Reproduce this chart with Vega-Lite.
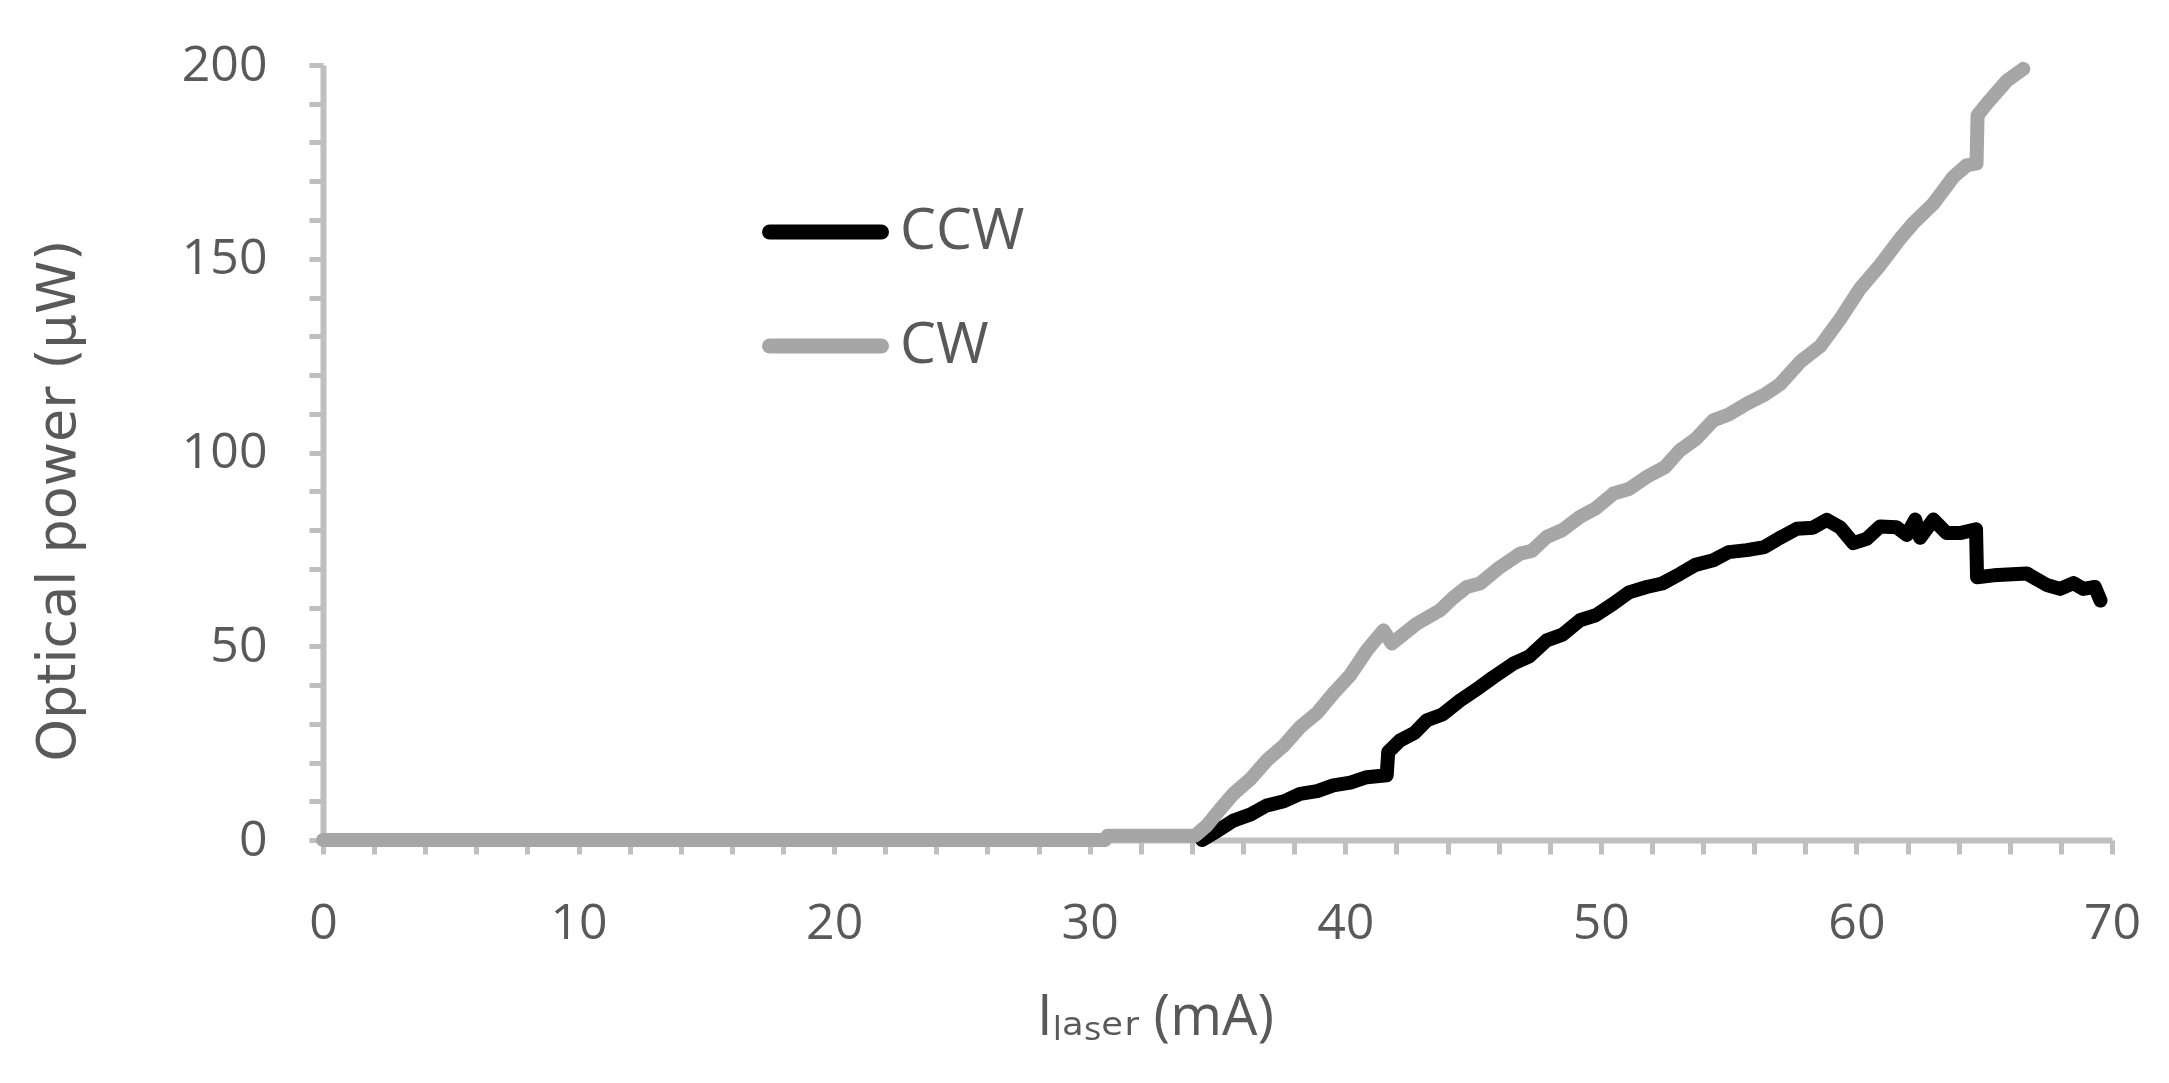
{
  "$schema": "https://vega.github.io/schema/vega-lite/v6.json",
  "description": "Optical power vs laser current for the CCW and CW directions.",
  "width": 1789,
  "height": 775,
  "autosize": {"type": "none"},
  "padding": {"left": 323, "top": 65, "right": 57, "bottom": 243},
  "background": "white",
  "config": {
    "view": {"stroke": null},
    "axis": {
      "domainColor": "#bfbfbf",
      "domainWidth": 6,
      "tickColor": "#bfbfbf",
      "tickWidth": 5,
      "tickSize": 14,
      "grid": false,
      "labelFont": "Open Sans",
      "labelFontSize": 50,
      "labelColor": "#595959",
      "labelFlush": false,
      "titleColor": "#595959",
      "titleFontWeight": "normal"
    }
  },
  "data": {
    "values": [
      {"current": 34.4, "power": 0, "dir": "CCW"},
      {"current": 35.0, "power": 2.4, "dir": "CCW"},
      {"current": 35.62, "power": 5.0, "dir": "CCW"},
      {"current": 36.3, "power": 6.6, "dir": "CCW"},
      {"current": 36.92, "power": 8.9, "dir": "CCW"},
      {"current": 37.6, "power": 10.0, "dir": "CCW"},
      {"current": 38.23, "power": 11.9, "dir": "CCW"},
      {"current": 38.9, "power": 12.6, "dir": "CCW"},
      {"current": 39.53, "power": 14.1, "dir": "CCW"},
      {"current": 40.2, "power": 14.8, "dir": "CCW"},
      {"current": 40.84, "power": 16.2, "dir": "CCW"},
      {"current": 41.62, "power": 16.7, "dir": "CCW"},
      {"current": 41.68, "power": 22.7, "dir": "CCW"},
      {"current": 42.14, "power": 25.7, "dir": "CCW"},
      {"current": 42.7, "power": 27.6, "dir": "CCW"},
      {"current": 43.19, "power": 30.9, "dir": "CCW"},
      {"current": 43.8, "power": 32.4, "dir": "CCW"},
      {"current": 44.49, "power": 36.0, "dir": "CCW"},
      {"current": 45.27, "power": 39.5, "dir": "CCW"},
      {"current": 45.79, "power": 42.0, "dir": "CCW"},
      {"current": 46.57, "power": 45.5, "dir": "CCW"},
      {"current": 47.2, "power": 47.4, "dir": "CCW"},
      {"current": 47.88, "power": 51.5, "dir": "CCW"},
      {"current": 48.5, "power": 53.0, "dir": "CCW"},
      {"current": 49.18, "power": 56.7, "dir": "CCW"},
      {"current": 49.8, "power": 58.0, "dir": "CCW"},
      {"current": 50.49, "power": 61.0, "dir": "CCW"},
      {"current": 51.1, "power": 63.9, "dir": "CCW"},
      {"current": 51.79, "power": 65.3, "dir": "CCW"},
      {"current": 52.4, "power": 66.2, "dir": "CCW"},
      {"current": 53.10, "power": 68.7, "dir": "CCW"},
      {"current": 53.7, "power": 71.0, "dir": "CCW"},
      {"current": 54.40, "power": 72.2, "dir": "CCW"},
      {"current": 55.0, "power": 74.3, "dir": "CCW"},
      {"current": 55.71, "power": 74.8, "dir": "CCW"},
      {"current": 56.4, "power": 75.6, "dir": "CCW"},
      {"current": 57.01, "power": 78.0, "dir": "CCW"},
      {"current": 57.66, "power": 80.3, "dir": "CCW"},
      {"current": 58.3, "power": 80.6, "dir": "CCW"},
      {"current": 58.84, "power": 82.6, "dir": "CCW"},
      {"current": 59.36, "power": 80.7, "dir": "CCW"},
      {"current": 59.88, "power": 76.6, "dir": "CCW"},
      {"current": 60.40, "power": 77.7, "dir": "CCW"},
      {"current": 60.92, "power": 80.9, "dir": "CCW"},
      {"current": 61.57, "power": 80.7, "dir": "CCW"},
      {"current": 61.97, "power": 78.7, "dir": "CCW"},
      {"current": 62.30, "power": 82.7, "dir": "CCW"},
      {"current": 62.49, "power": 78.0, "dir": "CCW"},
      {"current": 63.01, "power": 82.7, "dir": "CCW"},
      {"current": 63.53, "power": 79.2, "dir": "CCW"},
      {"current": 64.05, "power": 79.2, "dir": "CCW"},
      {"current": 64.68, "power": 80.2, "dir": "CCW"},
      {"current": 64.72, "power": 67.8, "dir": "CCW"},
      {"current": 65.36, "power": 68.3, "dir": "CCW"},
      {"current": 66.66, "power": 68.8, "dir": "CCW"},
      {"current": 67.45, "power": 65.8, "dir": "CCW"},
      {"current": 67.97, "power": 64.8, "dir": "CCW"},
      {"current": 68.49, "power": 66.3, "dir": "CCW"},
      {"current": 68.88, "power": 64.8, "dir": "CCW"},
      {"current": 69.33, "power": 65.3, "dir": "CCW"},
      {"current": 69.55, "power": 61.8, "dir": "CCW"},
      {"current": 0, "power": 0, "dir": "CW"},
      {"current": 30.6, "power": 0, "dir": "CW"},
      {"current": 30.7, "power": 1.1, "dir": "CW"},
      {"current": 34.12, "power": 1.1, "dir": "CW"},
      {"current": 34.58, "power": 3.7, "dir": "CW"},
      {"current": 35.1, "power": 7.9, "dir": "CW"},
      {"current": 35.62, "power": 11.9, "dir": "CW"},
      {"current": 36.3, "power": 15.8, "dir": "CW"},
      {"current": 36.92, "power": 20.5, "dir": "CW"},
      {"current": 37.6, "power": 24.4, "dir": "CW"},
      {"current": 38.23, "power": 29.1, "dir": "CW"},
      {"current": 38.9, "power": 32.8, "dir": "CW"},
      {"current": 39.53, "power": 37.8, "dir": "CW"},
      {"current": 40.2, "power": 42.6, "dir": "CW"},
      {"current": 40.84, "power": 48.9, "dir": "CW"},
      {"current": 41.49, "power": 54.1, "dir": "CW"},
      {"current": 41.82, "power": 50.7, "dir": "CW"},
      {"current": 42.79, "power": 55.8, "dir": "CW"},
      {"current": 43.71, "power": 59.3, "dir": "CW"},
      {"current": 44.2, "power": 62.4, "dir": "CW"},
      {"current": 44.75, "power": 65.3, "dir": "CW"},
      {"current": 45.27, "power": 66.2, "dir": "CW"},
      {"current": 46.05, "power": 70.4, "dir": "CW"},
      {"current": 46.84, "power": 73.9, "dir": "CW"},
      {"current": 47.3, "power": 74.6, "dir": "CW"},
      {"current": 47.88, "power": 78.2, "dir": "CW"},
      {"current": 48.5, "power": 80.0, "dir": "CW"},
      {"current": 49.18, "power": 83.4, "dir": "CW"},
      {"current": 49.8, "power": 85.6, "dir": "CW"},
      {"current": 50.49, "power": 89.4, "dir": "CW"},
      {"current": 51.1, "power": 90.6, "dir": "CW"},
      {"current": 51.79, "power": 93.7, "dir": "CW"},
      {"current": 52.5, "power": 96.2, "dir": "CW"},
      {"current": 53.10, "power": 100.6, "dir": "CW"},
      {"current": 53.7, "power": 103.4, "dir": "CW"},
      {"current": 54.40, "power": 108.3, "dir": "CW"},
      {"current": 55.0, "power": 109.8, "dir": "CW"},
      {"current": 55.71, "power": 112.6, "dir": "CW"},
      {"current": 56.4, "power": 114.9, "dir": "CW"},
      {"current": 57.01, "power": 117.6, "dir": "CW"},
      {"current": 57.80, "power": 123.4, "dir": "CW"},
      {"current": 58.58, "power": 127.4, "dir": "CW"},
      {"current": 59.36, "power": 134.4, "dir": "CW"},
      {"current": 60.14, "power": 142.3, "dir": "CW"},
      {"current": 60.92, "power": 148.3, "dir": "CW"},
      {"current": 61.71, "power": 155.2, "dir": "CW"},
      {"current": 62.23, "power": 159.2, "dir": "CW"},
      {"current": 63.01, "power": 164.2, "dir": "CW"},
      {"current": 63.79, "power": 171.1, "dir": "CW"},
      {"current": 64.31, "power": 174.1, "dir": "CW"},
      {"current": 64.70, "power": 174.6, "dir": "CW"},
      {"current": 64.74, "power": 187.0, "dir": "CW"},
      {"current": 65.10, "power": 190.0, "dir": "CW"},
      {"current": 65.88, "power": 195.9, "dir": "CW"},
      {"current": 66.53, "power": 199.0, "dir": "CW"}
    ]
  },
  "mark": {"type": "line", "strokeWidth": 14, "strokeCap": "round", "strokeJoin": "round"},
  "encoding": {
    "x": {
      "field": "current",
      "type": "quantitative",
      "scale": {"domain": [0, 70], "nice": false, "zero": false},
      "axis": {
        "values": [0, 2, 4, 6, 8, 10, 12, 14, 16, 18, 20, 22, 24, 26, 28, 30, 32, 34, 36, 38, 40, 42, 44, 46, 48, 50, 52, 54, 56, 58, 60, 62, 64, 66, 68, 70],
        "labelExpr": "datum.value % 10 === 0 ? datum.label : ''",
        "labelOverlap": false,
        "labelPadding": 44,
        "title": "Iₗₐₛₑᵣ (mA)",
        "titleFont": "Open Sans, DejaVu Sans",
        "titleFontSize": 56,
        "titleX": 832,
        "titleY": 150,
        "titleBaseline": "top",
        "titleAlign": "center"
      }
    },
    "y": {
      "field": "power",
      "type": "quantitative",
      "scale": {"domain": [0, 200], "nice": false},
      "axis": {
        "values": [0, 10, 20, 30, 40, 50, 60, 70, 80, 90, 100, 110, 120, 130, 140, 150, 160, 170, 180, 190, 200],
        "labelExpr": "datum.value % 50 === 0 ? datum.label : ''",
        "labelOverlap": false,
        "labelPadding": 42,
        "title": "Optical power (μW)",
        "titleFont": "DejaVu Sans",
        "titleFontSize": 54,
        "titleX": -238,
        "titleY": 435,
        "titleAngle": -90,
        "titleBaseline": "bottom",
        "titleAlign": "center"
      }
    },
    "color": {
      "field": "dir",
      "type": "nominal",
      "scale": {"domain": ["CCW", "CW"], "range": ["#000000", "#a6a6a6"]},
      "legend": {
        "title": null,
        "orient": "none",
        "legendX": 439,
        "legendY": 147,
        "padding": 0,
        "symbolType": "stroke",
        "symbolSize": 12544,
        "symbolStrokeWidth": 15,
        "clipHeight": 40,
        "rowPadding": 57,
        "labelOffset": 11,
        "labelFont": "Open Sans",
        "labelFontSize": 57,
        "labelColor": "#595959",
        "encode": {"symbols": {"update": {"strokeCap": {"value": "round"}}}}
      }
    }
  }
}
